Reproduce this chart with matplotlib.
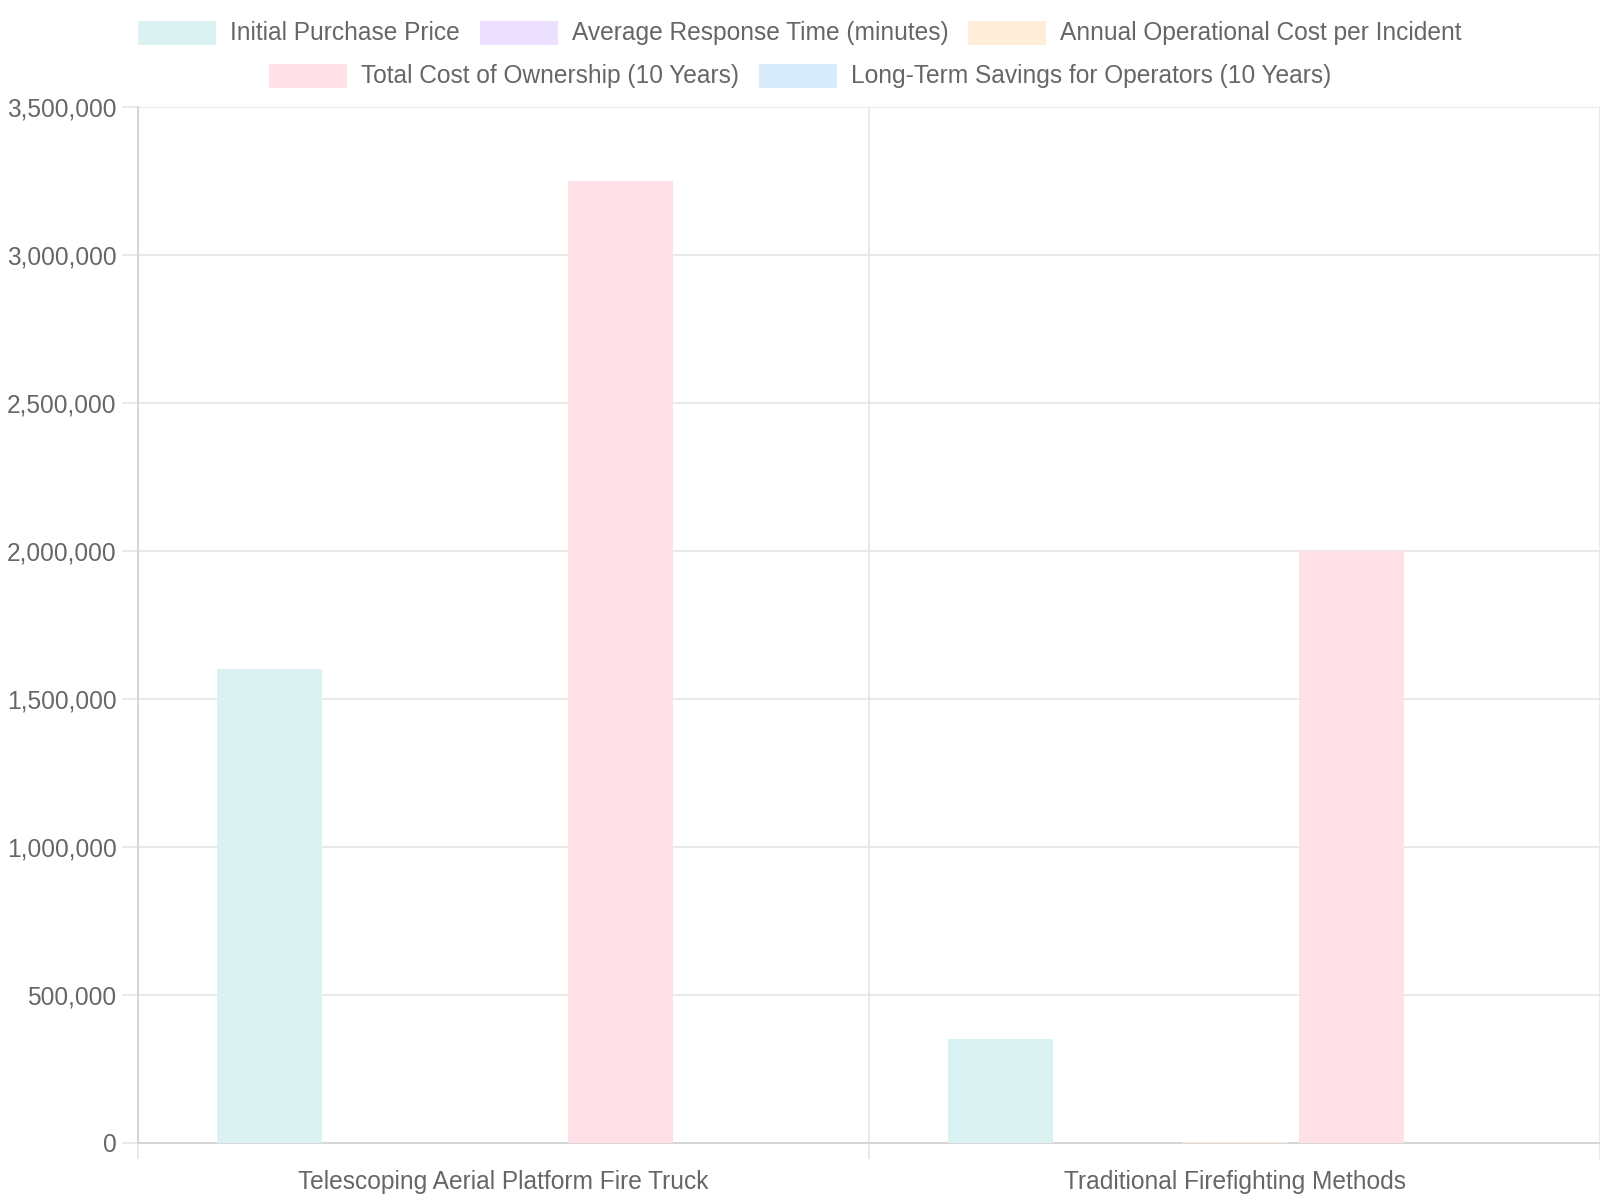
import matplotlib
matplotlib.use("Agg")
import matplotlib.pyplot as plt
from matplotlib.patches import Rectangle
from matplotlib.ticker import FuncFormatter, MultipleLocator, FixedLocator
import numpy as np

plt.rcParams['font.family'] = ['Liberation Sans', 'DejaVu Sans']

categories = ["Telescoping Aerial Platform Fire Truck", "Traditional Firefighting Methods"]
series_names = ["Initial Purchase Price", "Average Response Time (minutes)",
                "Annual Operational Cost per Incident", "Total Cost of Ownership (10 Years)",
                "Long-Term Savings for Operators (10 Years)"]
initial_price = [1600000, 350000]
response_time = [5, 15]
operational_cost = [0, 2000]
total_cost = [3250000, 2000000]
long_term_savings = [1500, 0]
series_values = [initial_price, response_time, operational_cost, total_cost, long_term_savings]
colors = ["#dbf2f2", "#ebe0ff", "#ffecd9", "#ffe0e6", "#d7ecfb"]

W, H = 1600, 1200
fig = plt.figure(figsize=(16, 12), dpi=100)
text_color = "#666666"
fs = 17.65

left, right, top, bottom = 138, 1600, 107, 1143
ax = fig.add_axes([left / W, 1 - bottom / H, (right - left) / W, (bottom - top) / H])

n = len(series_values)
slot = 0.8 / n
bw = slot * 0.9
x = np.arange(len(categories))
for i, (vals, c) in enumerate(zip(series_values, colors)):
    ax.bar(x + (i - (n - 1) / 2) * slot, vals, width=bw, color=c, linewidth=0, zorder=3)

ax.set_xlim(-0.5, len(categories) - 0.5)
ax.set_ylim(0, 3500000)
ax.yaxis.set_major_locator(MultipleLocator(500000))
ax.yaxis.set_major_formatter(FuncFormatter(lambda v, p: f"{int(v):,}"))
ax.set_xticks(x)
ax.set_xticklabels(categories)
ax.xaxis.set_minor_locator(FixedLocator(np.arange(-0.5, len(categories), 1.0)))

ax.grid(axis='y', which='major', color='#e5e5e5', linewidth=1.2, zorder=0)
ax.grid(axis='x', which='minor', color='#e5e5e5', linewidth=1.2, zorder=0)
ax.tick_params(axis='y', length=11.5, width=1.2, color='#e5e5e5', labelsize=fs,
               labelcolor=text_color, pad=4)
ax.tick_params(axis='x', which='major', length=0, labelsize=fs, labelcolor=text_color, pad=19.5)
ax.tick_params(axis='x', which='minor', length=11.5, width=1.2, color='#e5e5e5')
for s in ['top', 'right']:
    ax.spines[s].set_visible(False)
for s in ['left', 'bottom']:
    ax.spines[s].set_color('#d0d0d0')
    ax.spines[s].set_linewidth(1.2)

# Legend (Chart.js-style, centered rows)
fig.canvas.draw()
renderer = fig.canvas.get_renderer()
rows = [[0, 1, 2], [3, 4]]
row_y = [33, 76]
box_w, box_h = 78, 24
for row, yc in zip(rows, row_y):
    widths = []
    for idx in row:
        t = fig.text(0, 0, series_names[idx], fontsize=fs)
        bb = t.get_window_extent(renderer)
        widths.append(bb.width)
        t.remove()
    total = sum(92 + w for w in widths) + 20 * (len(row) - 1)
    xs = (W - total) / 2
    for idx, w in zip(row, widths):
        fig.patches.append(Rectangle((xs / W, 1 - (yc + box_h / 2) / H), box_w / W, box_h / H,
                                     transform=fig.transFigure, facecolor=colors[idx],
                                     edgecolor='none', figure=fig))
        fig.text((xs + 92) / W, 1 - yc / H, series_names[idx], fontsize=fs,
                 color=text_color, va='center', ha='left')
        xs += 92 + w + 20

fig.savefig("out.png", dpi=100)
